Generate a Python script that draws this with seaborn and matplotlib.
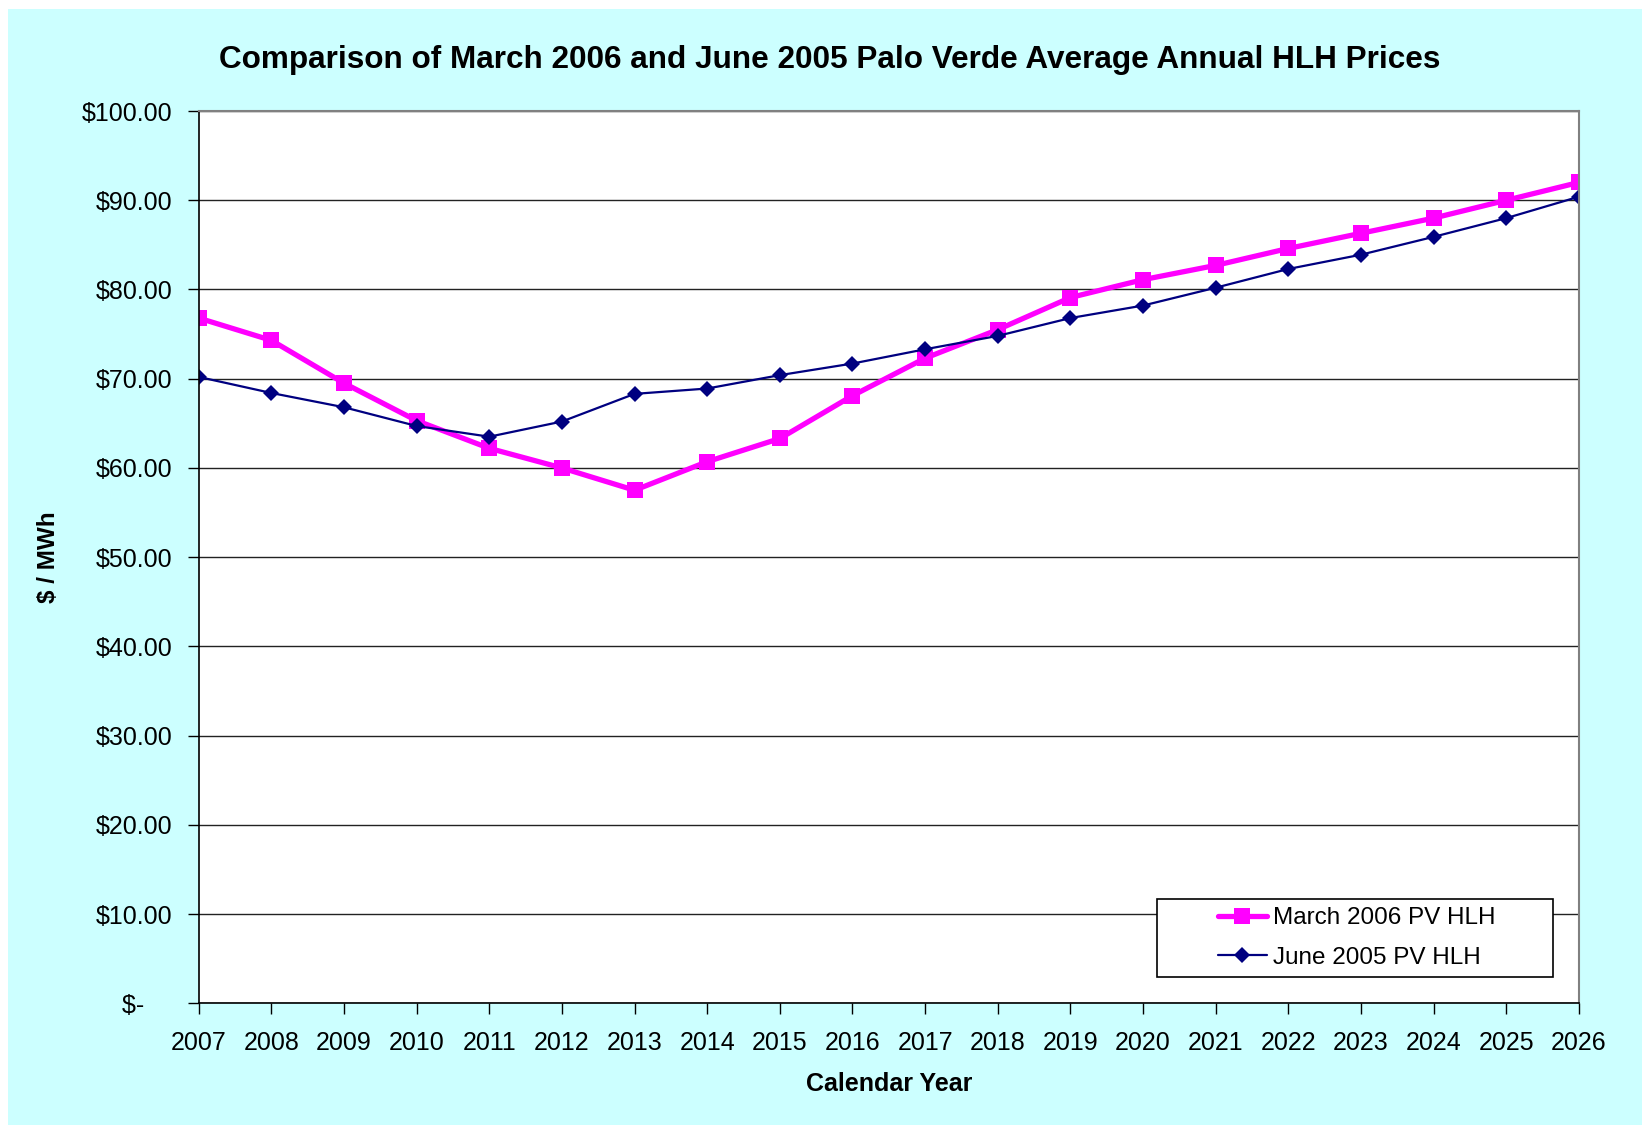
import numpy as np
import pandas as pd
import matplotlib
matplotlib.use('Agg')
import matplotlib.pyplot as plt
import matplotlib.ticker as mticker
from matplotlib.patches import Rectangle
import seaborn as sns

sns.set_style('white')
plt.rcParams['font.family'] = ['Liberation Sans', 'DejaVu Sans']
plt.rcParams['text.color'] = 'black'
plt.rcParams['axes.labelcolor'] = 'black'
plt.rcParams['xtick.color'] = 'black'
plt.rcParams['ytick.color'] = 'black'

years = list(range(2007, 2027))
march_2006 = [76.8, 74.3, 69.5, 65.3, 62.2, 60.0, 57.5, 60.7, 63.3, 68.1,
              72.3, 75.5, 79.1, 81.1, 82.7, 84.6, 86.3, 88.0, 90.0, 92.0]
june_2005 = [70.2, 68.4, 66.8, 64.7, 63.5, 65.2, 68.3, 68.9, 70.4, 71.7,
             73.3, 74.8, 76.8, 78.2, 80.2, 82.3, 83.9, 85.9, 88.0, 90.4]
y_ticks = [0, 10, 20, 30, 40, 50, 60, 70, 80, 90, 100]

df = pd.DataFrame({'year': years, 'March 2006 PV HLH': march_2006, 'June 2005 PV HLH': june_2005})

fig = plt.figure(figsize=(16.42, 11.25), dpi=100, facecolor='white')
# cyan chart area (white strip on top and left like the source)
fig.patches.append(Rectangle((8 / 1642, 0), 1, 1 - 9 / 1125, transform=fig.transFigure,
                             facecolor='#CCFFFF', edgecolor='none', zorder=-10))

ax = fig.add_axes([0.121, 0.1082, 0.8406, 0.7931])
ax.set_facecolor('white')

sns.lineplot(data=df, x='year', y='March 2006 PV HLH', ax=ax, color='#FF00FF', lw=3.8,
             marker='s', markersize=11, markeredgewidth=0, label='March 2006 PV HLH')
sns.lineplot(data=df, x='year', y='June 2005 PV HLH', ax=ax, color='#000080', lw=1.6,
             marker='D', markersize=8.5, markeredgewidth=0, label='June 2005 PV HLH')

ax.set_xlim(2007, 2026)
ax.set_ylim(0, 100)
ax.set_xticks(years)
ax.set_yticks(y_ticks)
# accounting style: zero shows as "$-" sitting left of the decimals
ax.yaxis.set_major_formatter(mticker.FuncFormatter(lambda v, p: '$-    ' if v == 0 else f'${v:.2f}'))
ax.grid(axis='y', color='#222222', lw=1)
ax.grid(axis='x', visible=False)
ax.set_axisbelow(True)

for s in ['top', 'right']:
    ax.spines[s].set_color('#808080')
    ax.spines[s].set_linewidth(1.5)
for s in ['left', 'bottom']:
    ax.spines[s].set_color('black')
    ax.spines[s].set_linewidth(1.2)

ax.tick_params(axis='both', which='major', direction='out', length=8, width=1, color='black',
               labelsize=18, left=True, bottom=True)
ax.tick_params(axis='y', pad=11)
ax.tick_params(axis='x', pad=12)

ax.set_xlabel('Calendar Year', fontsize=18, fontweight='bold', va='center')
ax.xaxis.set_label_coords(0.5, -0.090)
ax.set_ylabel('$ / MWh', fontsize=17.5, fontweight='bold', va='center')
ax.yaxis.set_label_coords(-0.109, 0.5)

fig.text(0.505, 0.947, 'Comparison of March 2006 and June 2005 Palo Verde Average Annual HLH Prices',
         ha='center', va='center', fontsize=22.7, fontweight='bold')

# legend box drawn separately, Excel style (wider than its contents)
ax.add_patch(Rectangle((0.694, 0.0295), 0.287, 0.0875, transform=ax.transAxes,
                       facecolor='white', edgecolor='black', lw=1.2, zorder=4))
leg = ax.legend(loc='center left', bbox_to_anchor=(0.7385, 0.073), fontsize=17.5, frameon=False,
                handlelength=2.0, handletextpad=0.25, borderpad=0, labelspacing=0.72,
                borderaxespad=0)
leg.set_zorder(5)

fig.savefig('out.png', dpi=100, facecolor=fig.get_facecolor())
